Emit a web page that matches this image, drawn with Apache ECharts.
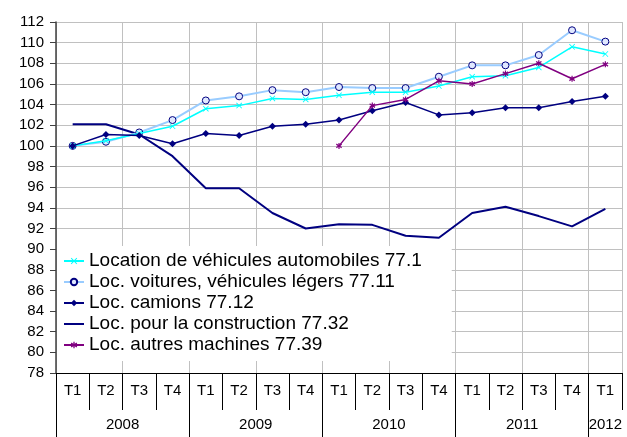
<!DOCTYPE html>
<html>
<head>
<meta charset="utf-8">
<script src="https://cdn.jsdelivr.net/npm/echarts@6/dist/echarts.min.js"></script>
<style>
  html, body { margin: 0; padding: 0; background: #fff; }
  #chart { width: 627px; height: 437px; }
</style>
</head>
<body>
<div id="chart"></div>
<script>
// trimestres et années
const quarters = ['T1', 'T2', 'T3', 'T4', 'T1', 'T2', 'T3', 'T4', 'T1', 'T2', 'T3', 'T4', 'T1', 'T2', 'T3', 'T4', 'T1']
const years = ['2008', '2009', '2010', '2011', '2012']
const yearCenters = [2, 6, 10, 14, 16.5]
const yearBounds = [0, 4, 8, 12, 16]
const quarterBounds = [0, 1, 2, 3, 4, 5, 6, 7, 8, 9, 10, 11, 12, 13, 14, 15, 16, 17]

// indices (base 100)
const locAuto = [100.0, 100.5, 101.2, 101.9, 103.6, 103.9, 104.6, 104.5, 104.9, 105.2, 105.2, 105.8, 106.7, 106.8, 107.6, 109.6, 108.9]
const locVoitures = [100.0, 100.4, 101.3, 102.5, 104.4, 104.8, 105.4, 105.2, 105.7, 105.6, 105.6, 106.7, 107.8, 107.8, 108.8, 111.2, 110.1]
const locCamions = [100.0, 101.1, 101.0, 100.2, 101.2, 101.0, 101.9, 102.1, 102.5, 103.4, 104.2, 103.0, 103.2, 103.7, 103.7, 104.3, 104.8]
const locConstruction = [102.1, 102.1, 101.1, 99.0, 95.9, 95.9, 93.5, 92.0, 92.4, 92.35, 91.3, 91.1, 93.5, 94.1, 93.2, 92.2, 93.9]
const locAutres = ['-', '-', '-', '-', '-', '-', '-', '-', 100.0, 103.9, 104.5, 106.3, 106.0, 107.0, 108.0, 106.5, 107.9]

const crossPath = 'path://M0,1L1,0L5,4L9,0L10,1L6,5L10,9L9,10L5,6L1,10L0,9L4,5Z'
const starPath = 'path://M4,0L6,0L6,3L9,1L10,3L7,5L10,7L9,9L6,7L6,10L4,10L4,7L1,9L0,7L3,5L0,3L1,1L4,3Z'
// icône de légende : simple trait
const lineIcon = 'path://M0,0L0.01,0L0,0.01Z M0,3L20,3L20,5L0,5Z M20,8L19.99,8L20,7.99Z'

const names = [
  'Location de véhicules automobiles 77.1',
  'Loc. voitures, véhicules légers 77.11',
  'Loc. camions 77.12',
  'Loc. pour la construction 77.32',
  'Loc. autres machines 77.39'
]

// axe numérique 0..17 superposé à l'axe des trimestres (repères de décor)
function bandAxis (extra) {
  return Object.assign({
    type: 'value',
    min: 0,
    max: 17,
    position: 'bottom',
    axisLine: { show: false },
    axisTick: { show: false },
    axisLabel: { show: false },
    splitLine: { show: false }
  }, extra)
}

const myChart = echarts.init(document.getElementById('chart'))
myChart.setOption({
  animation: false,
  textStyle: { fontFamily: 'Liberation Sans, Arial, sans-serif' },
  grid: { left: 56, right: 5, top: 22, bottom: 64 },
  legend: {
    orient: 'vertical',
    left: 57,
    top: 246,
    padding: [5, 30, 6, 6],
    itemGap: 1,
    itemWidth: 20,
    itemHeight: 8,
    backgroundColor: '#fff',
    textStyle: { fontSize: 19, color: '#000', lineHeight: 20 },
    data: [names[0], names[1], names[2], { name: names[3], icon: lineIcon }, names[4]]
  },
  xAxis: [
    {
      type: 'category',
      data: quarters,
      boundaryGap: true,
      axisLine: { lineStyle: { color: '#000', width: 1 } },
      axisTick: { show: false },
      axisLabel: { interval: 0, margin: 10, fontSize: 15, color: '#000' },
      splitLine: { show: false }
    },
    // lignes verticales de la grille, tous les 2 trimestres
    bandAxis({ interval: 2, splitLine: { show: true, lineStyle: { color: '#c0c0c0', width: 1 } } }),
    // séparateurs des trimestres
    bandAxis({ axisTick: { show: true, customValues: quarterBounds, length: 37, lineStyle: { color: '#000' } } }),
    // séparateurs et libellés des années
    bandAxis({
      axisTick: { show: true, customValues: yearBounds, length: 64, lineStyle: { color: '#000' } },
      axisLabel: {
        show: true,
        customValues: yearCenters,
        margin: 44,
        fontSize: 15,
        color: '#000',
        formatter: (v) => years[yearCenters.indexOf(v)] || ''
      }
    })
  ],
  yAxis: {
    type: 'value',
    min: 78,
    max: 112,
    interval: 2,
    axisLine: { show: true, lineStyle: { color: '#404040', width: 1.5 } },
    axisTick: { show: true, length: 6, lineStyle: { color: '#404040' } },
    axisLabel: { fontSize: 15, color: '#000', margin: 12 },
    splitLine: { lineStyle: { color: '#c0c0c0', width: 1 } }
  },
  series: [
    {
      name: names[0],
      type: 'line',
      data: locAuto,
      symbol: crossPath,
      symbolSize: 6,
      lineStyle: { color: '#00ffff', width: 1.5 },
      itemStyle: { color: '#00ffff' },
      z: 4
    },
    {
      name: names[1],
      type: 'line',
      data: locVoitures,
      symbol: 'circle',
      symbolSize: 7,
      showAllSymbol: true,
      lineStyle: { color: '#99ccff', width: 2 },
      itemStyle: { color: '#e0e8ff', borderColor: '#000080', borderWidth: 1 },
      z: 3
    },
    {
      name: names[2],
      type: 'line',
      data: locCamions,
      symbol: 'diamond',
      symbolSize: 7,
      lineStyle: { color: '#000080', width: 1.5 },
      itemStyle: { color: '#000080' },
      z: 5
    },
    {
      name: names[3],
      type: 'line',
      data: locConstruction,
      symbol: 'none',
      lineStyle: { color: '#000080', width: 2 },
      itemStyle: { color: '#000080' },
      z: 2
    },
    {
      name: names[4],
      type: 'line',
      data: locAutres,
      symbol: starPath,
      symbolSize: 6,
      lineStyle: { color: '#800080', width: 1.5 },
      itemStyle: { color: '#800080' },
      z: 6
    }
  ]
})
</script>
</body>
</html>
